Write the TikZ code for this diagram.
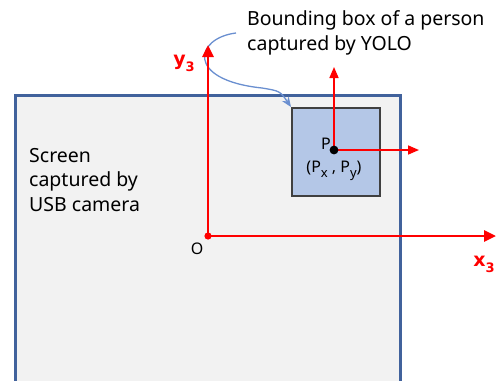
\documentclass[tikz,border=0pt]{standalone}
\usepackage{fontspec}
\setmainfont{Noto Sans}
\newfontfamily\axisfont{DejaVu Sans}
\usetikzlibrary{arrows.meta,positioning}
\definecolor{screenfill}{HTML}{F2F2F2}
\definecolor{screenline}{HTML}{41629C}
\definecolor{boxfill}{HTML}{B4C7E7}
\definecolor{boxline}{HTML}{404040}
\definecolor{calloutline}{HTML}{6A8FD0}
\newcommand{\lowsub}[1]{\raisebox{-0.32em}{\fontsize{13}{13}\selectfont #1}}
\begin{document}
\begin{tikzpicture}[
  x=1pt, y=-1pt,
  axis/.style={draw=red, line width=2.8pt, -{Triangle[length=12pt,width=11pt]}},
  small axis/.style={draw=red, line width=1.6pt, -{Triangle[length=11pt,width=9pt]}},
  note/.style={font=\fontsize{19.5}{24.5}\selectfont, align=left, inner sep=0pt, anchor=west},
  axis label/.style={text=red, font=\axisfont\bfseries\fontsize{19}{20}\selectfont, inner sep=0pt},
  point label/.style={font=\fontsize{16}{18}\selectfont, inner sep=0pt},
  callout/.style={draw=calloutline, line width=1.3pt, -{Stealth[length=10pt,width=8pt]}}
]
\useasboundingbox (0,0) rectangle (502,380);
% camera screen, cut off at the bottom
\begin{scope}
  \clip (0,0) rectangle (502,380);
  \draw[fill=screenfill, draw=screenline, line width=3pt] (15,95) rectangle (400,400);
\end{scope}
\node[note] (screentext) at (29,180) {Screen\\captured by\\USB camera};

% bounding box of the person
\node[draw=boxline, fill=boxfill, line width=2pt, minimum width=88pt, minimum height=88pt] (bbox) at (336,152) {};
\node[note] (bbnote) at (247,33) {Bounding box of a person\\captured by YOLO};
\draw[callout] ([xshift=-11pt]bbnote.west) .. controls (195,38) and (185,80) .. (262,88)
  .. controls (280,91) .. (bbox.north west);

% image coordinate axes
\coordinate (O) at (208,236);
\coordinate (yend) at (208,45);
\coordinate (xend) at (496,236);
\draw[axis] (O) -- (yend);
\draw[axis] (O) -- (xend);
\fill[red] (O) circle (3.6pt);
\node[point label] (olabel) at (197,249) {O};
\node[axis label] (ylabel) at (184,63) {y\lowsub{3}};
\node[axis label] (xlabel) at (484,264) {x\lowsub{3}};

% center point of the bounding box
\coordinate (P) at (334,150);
\coordinate (pup) at (334,67);
\coordinate (pright) at (419,150);
\draw[small axis] (P) -- (pup);
\draw[small axis] (P) -- (pright);
\fill[black] (P) circle (4.4pt);
\node[point label, left=3pt of P, yshift=6pt] (plabel) {P};
\node[point label] (pcoord) at (334,171) {(P\lowsub{x} , P\lowsub{y})};
\end{tikzpicture}
\end{document}
